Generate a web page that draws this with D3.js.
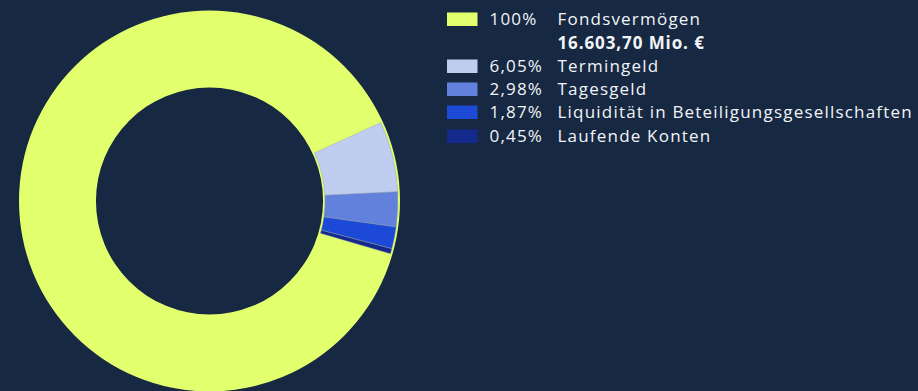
<!DOCTYPE html>
<html>
<head>
<meta charset="utf-8">
<script src="https://cdn.jsdelivr.net/npm/d3@7"></script>
<style>
  html, body { margin: 0; padding: 0; background: #162842; }
  svg { display: block; }
  text { font-family: "Open Sans", "Noto Sans", sans-serif; fill: #f2f4f7; }
</style>
</head>
<body>
<svg id="chart" width="918" height="391"></svg>
<script>
// Total fund volume and its liquidity breakdown (percent of fund)
const totalLabel = "Fondsvermögen";
const totalShare = 100;
const totalValue = "16.603,70 Mio. €";
const categories = ["Termingeld", "Tagesgeld", "Liquidität in Beteiligungsgesellschaften", "Laufende Konten"];
const shares = [6.05, 2.98, 1.87, 0.45];
const colors = ["#bfcdf1", "#6281dd", "#1c4ad6", "#14298c"];
const totalColor = "#e2ff6e";

const svg = d3.select("#chart");
const cx = 209.5, cy = 201;
const outerR = 190.5, innerR = 113.5;
const fmt = v => d3.format(".2f")(v).replace(".", ",") + "%";

const g = svg.append("g").attr("transform", `translate(${cx},${cy})`);

// Full ring for the total fund volume
const ringArc = d3.arc().innerRadius(innerR).outerRadius(outerR);
g.append("path")
  .attr("d", ringArc({ startAngle: 0, endAngle: 2 * Math.PI }))
  .attr("fill", totalColor);

// Liquidity components laid over the ring, slightly inset
const sum = d3.sum(shares);
const startA = 65.4 * Math.PI / 180;
const pie = d3.pie().sort(null).value(d => d)
  .startAngle(startA)
  .endAngle(startA + sum / totalShare * 2 * Math.PI);
const sliceArc = d3.arc().innerRadius(innerR + 2).outerRadius(outerR - 2);

g.selectAll("path.slice")
  .data(pie(shares))
  .join("path")
  .attr("class", "slice")
  .attr("d", sliceArc)
  .attr("fill", (d, i) => colors[i])
  .attr("stroke", "#8d9ab5")
  .attr("stroke-width", 0.4);

// Legend
const legend = svg.append("g").attr("transform", "translate(447,0)");
const rows = [
  { y: 19, color: totalColor, pct: totalShare + "%", label: totalLabel },
  ...categories.map((c, i) => ({ y: [66, 89, 112, 136][i], color: colors[i], pct: fmt(shares[i]), label: c }))
];
const fs = 17;
const spacing = 1.2;
rows.forEach(r => {
  legend.append("rect").attr("x", 0).attr("y", r.y - 6.5).attr("width", 30.5).attr("height", 13.5).attr("fill", r.color);
  legend.append("text").attr("x", 42.5).attr("y", r.y + 6).attr("font-size", fs)
    .attr("letter-spacing", spacing).text(r.pct);
  legend.append("text").attr("x", 110.5).attr("y", r.y + 6).attr("font-size", fs)
    .attr("letter-spacing", spacing).text(r.label);
});
legend.append("text").attr("x", 110.5).attr("y", 48.5).attr("font-size", fs).attr("font-weight", 700)
  .attr("letter-spacing", 0.9).text(totalValue);
</script>
</body>
</html>
